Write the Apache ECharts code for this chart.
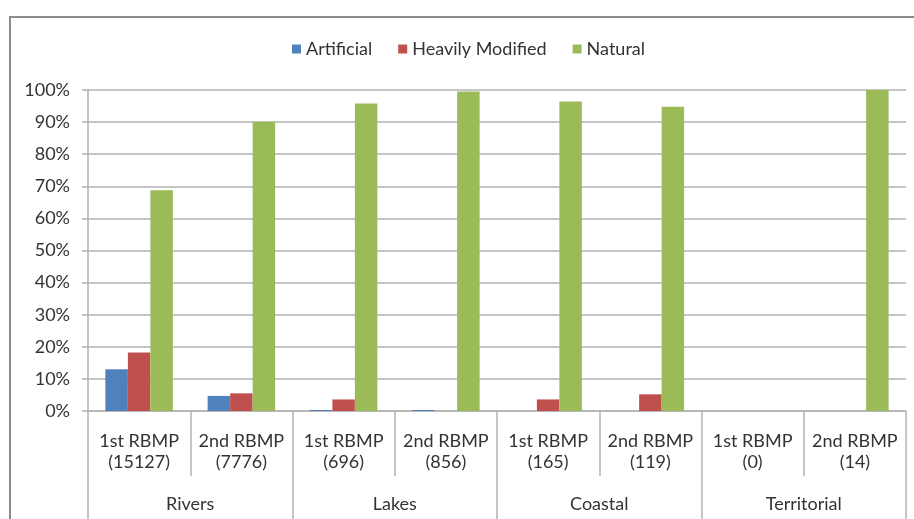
<!DOCTYPE html>
<html>
<head>
<meta charset="utf-8">
<script src="https://cdn.jsdelivr.net/npm/echarts@6/dist/echarts.min.js"></script>
<style>
html,body{margin:0;padding:0;background:#fff;}
#chart{width:914px;height:519px;}
</style>
</head>
<body>
<div id="chart"></div>
<script>
const subCategories = ["1st RBMP\n(15127)", "2nd RBMP\n(7776)", "1st RBMP\n(696)", "2nd RBMP\n(856)", "1st RBMP\n(165)", "2nd RBMP\n(119)", "1st RBMP\n(0)", "2nd RBMP\n(14)"];
const groups = ["Rivers", "Lakes", "Coastal", "Territorial"];
const artificial = [13.0, 4.7, 0.3, 0.3, 0, 0, 0, 0];
const heavilyModified = [18.2, 5.5, 3.6, 0, 3.6, 5.2, 0, 0];
const natural = [68.8, 90.1, 95.8, 99.5, 96.4, 94.8, 0, 100];
const seriesNames = ["Artificial", "Heavily Modified", "Natural"];
const colors = ["#4F81BD", "#C0504D", "#9BBB59"];

const FONT = "Lato";
const TXT = "#333333";
const LINE = "#b2b2b2";

const chart = echarts.init(document.getElementById('chart'), null, {renderer: 'canvas'});
chart.setOption({
  animation: false,
  color: colors,
  textStyle: {fontFamily: FONT},
  graphic: [{
    type: 'rect',
    shape: {x: 10, y: 17, width: 1000, height: 600},
    style: {fill: 'none', stroke: '#8c8c8c', lineWidth: 2},
    silent: true
  }],
  legend: {
    left: 287,
    top: 34,
    itemWidth: 9,
    itemHeight: 9,
    itemGap: 26,
    icon: 'rect',
    textStyle: {fontFamily: FONT, fontSize: 18, color: TXT, lineHeight: 20},
    data: seriesNames
  },
  grid: {left: 88, right: 8, top: 90, bottom: 108, containLabel: false},
  xAxis: [{
    type: 'category',
    data: subCategories,
    position: 'bottom',
    axisLine: {show: true, lineStyle: {color: LINE, width: 1.5}},
    axisTick: {show: true, length: 65, lineStyle: {color: LINE, width: 1.5}},
    axisLabel: {interval: 0, margin: 20, fontFamily: FONT, fontSize: 18, lineHeight: 21, color: TXT}
  }, {
    type: 'category',
    data: groups,
    position: 'bottom',
    offset: 0,
    axisLine: {show: false},
    axisTick: {show: true, length: 110, lineStyle: {color: LINE, width: 1.5}},
    axisLabel: {interval: 0, margin: 83, fontFamily: FONT, fontSize: 18, lineHeight: 21, color: TXT}
  }],
  yAxis: {
    type: 'value',
    min: 0,
    max: 100,
    interval: 10,
    axisLine: {show: true, lineStyle: {color: LINE, width: 1.5}},
    axisTick: {show: true, length: 6, lineStyle: {color: LINE, width: 1.5}},
    axisLabel: {formatter: '{value}%', margin: 18, fontFamily: FONT, fontSize: 18, color: TXT},
    splitLine: {show: true, lineStyle: {color: LINE, width: 1.5}}
  },
  series: [
    {name: seriesNames[0], type: 'bar', data: artificial, barGap: '0%', barCategoryGap: '34%'},
    {name: seriesNames[1], type: 'bar', data: heavilyModified, barGap: '0%', barCategoryGap: '34%'},
    {name: seriesNames[2], type: 'bar', data: natural, barGap: '0%', barCategoryGap: '34%'}
  ]
});
</script>
</body>
</html>
